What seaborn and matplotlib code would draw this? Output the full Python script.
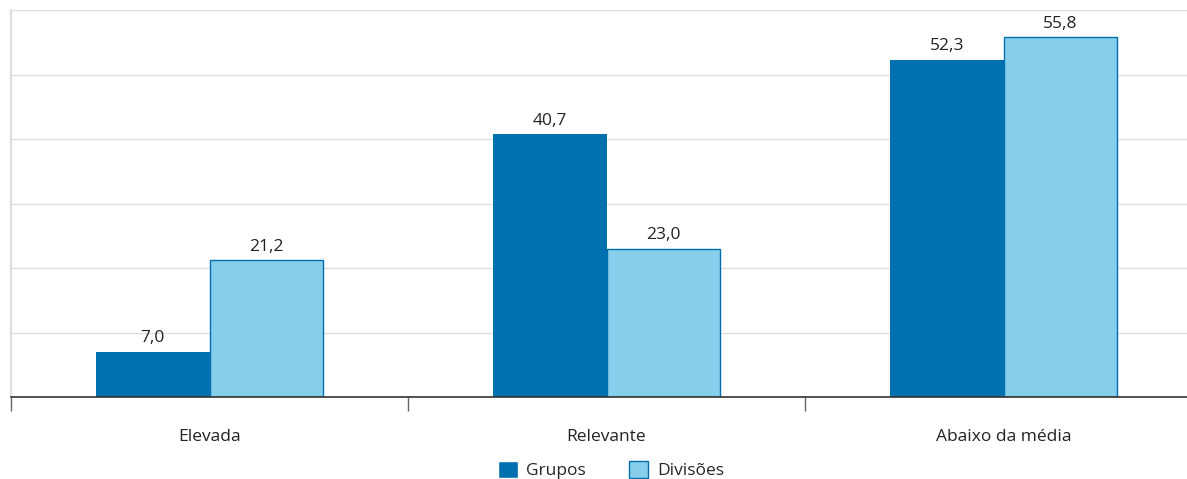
import numpy as np
import pandas as pd
import matplotlib
matplotlib.use("Agg")
import matplotlib.pyplot as plt
import seaborn as sns
from matplotlib.ticker import FixedLocator

categories = ["Elevada", "Relevante", "Abaixo da média"]
series = ["Grupos", "Divisões"]
grupos = [7.0, 40.7, 52.3]
divisoes = [21.2, 23.0, 55.8]

colors = {"Grupos": "#0070AF", "Divisões": "#87CEEB"}

df = pd.DataFrame({
    "categoria": categories * 2,
    "serie": ["Grupos"] * 3 + ["Divisões"] * 3,
    "valor": grupos + divisoes,
})

sns.set_style("white")
plt.rcParams["font.family"] = ["Open Sans", "DejaVu Sans"]

fig = plt.figure(figsize=(11.87, 4.79), dpi=100)
ax = fig.add_axes([11 / 1187, 1 - 397 / 479, 1 - 11 / 1187, (397 - 10) / 479])

sns.barplot(data=df, x="categoria", y="valor", hue="serie", order=categories,
            hue_order=series, palette=colors, width=0.57, saturation=1,
            ax=ax, zorder=3)

for cont, name in zip(ax.containers, series):
    for p in cont:
        if name == "Divisões":
            p.set_edgecolor("#0070AF")
            p.set_linewidth(1)
        else:
            p.set_linewidth(0)
    ax.bar_label(cont, labels=[f"{v:.1f}".replace(".", ",") for v in cont.datavalues],
                 padding=4, fontsize=12.5, color="#222222")

ax.set_ylim(0, 60)
ax.set_xlim(-0.5, -0.5 + 1176 / 397)
ax.set_yticks(np.arange(10, 61, 10))
ax.set_yticklabels([])
ax.yaxis.grid(True, color="#dedede", linewidth=0.9, zorder=0)
ax.tick_params(axis="y", length=0)

ax.set_xticks(range(len(categories)))
ax.set_xticklabels(categories, fontsize=12.5, color="#222222")
ax.tick_params(axis="x", which="major", length=0, pad=23)
ax.xaxis.set_minor_locator(FixedLocator([-0.5, 0.5, 1.5]))
ax.tick_params(axis="x", which="minor", bottom=True, length=10, width=1, color="#666666")
ax.set_xlabel("")
ax.set_ylabel("")

for s in ["top", "right"]:
    ax.spines[s].set_visible(False)
ax.spines["left"].set_color("#dedede")
ax.spines["left"].set_linewidth(1.5)
ax.spines["bottom"].set_color("#333333")
ax.spines["bottom"].set_linewidth(1.2)
ax.spines["bottom"].set_zorder(4)

handles, labels = ax.get_legend_handles_labels()
ax.legend_.remove()
handles[1].set_edgecolor("#0070AF")
handles[1].set_linewidth(1)
fig.legend(handles, labels, loc="lower center", bbox_to_anchor=(0.515, -0.033), ncol=2,
           frameon=False, fontsize=12.5, handlelength=1.1, handleheight=1.1,
           columnspacing=2.5, handletextpad=0.5)

fig.savefig("out.png", dpi=100)
